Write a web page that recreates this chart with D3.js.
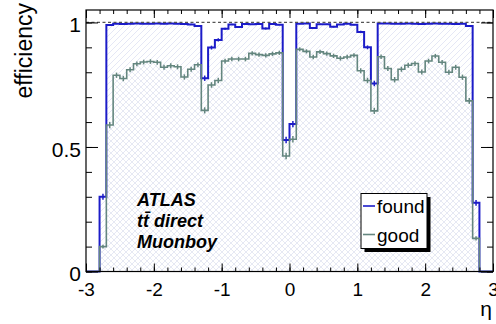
<!DOCTYPE html>
<html>
<head>
<meta charset="utf-8">
<script src="https://cdn.jsdelivr.net/npm/d3@7"></script>
<style>
  html, body { margin: 0; padding: 0; background: #fff; }
  svg { display: block; font-family: "Liberation Sans", Arial, Helvetica, sans-serif; }
</style>
</head>
<body>
<svg id="chart" width="496" height="324"></svg>
<script>
// Binning in pseudorapidity
const etaMin = -3;
const etaMax = 3;
const nBins = 60;

// Reconstruction efficiency per eta bin (empty bins outside |eta| < 2.8)
const found = [
  0, 0, 0.300, 0.990, 0.995, 0.994, 0.995, 0.996, 0.995, 0.995,
  0.996, 0.995, 0.996, 0.995, 0.994, 0.992, 0.986, 0.776, 0.899, 0.930,
  0.975, 0.992, 0.982, 0.994, 0.993, 0.994, 0.976, 0.994, 0.991, 0.528,
  0.592, 0.995, 0.996, 0.978, 0.993, 0.993, 0.983, 0.992, 0.995, 0.991,
  0.962, 0.900, 0.755, 0.996, 0.996, 0.995, 0.995, 0.996, 0.995, 0.994,
  0.995, 0.996, 0.995, 0.995, 0.994, 0.995, 0.986, 0.276, 0, 0
];
const good = [
  0, 0, 0.100, 0.588, 0.788, 0.775, 0.810, 0.834, 0.841, 0.843,
  0.840, 0.820, 0.826, 0.822, 0.781, 0.812, 0.830, 0.647, 0.749, 0.767,
  0.845, 0.853, 0.853, 0.853, 0.876, 0.871, 0.868, 0.874, 0.878, 0.464,
  0.531, 0.892, 0.884, 0.861, 0.882, 0.875, 0.866, 0.856, 0.861, 0.868,
  0.806, 0.767, 0.645, 0.862, 0.815, 0.770, 0.812, 0.828, 0.835, 0.801,
  0.845, 0.865, 0.840, 0.800, 0.820, 0.780, 0.685, 0.133, 0, 0
];
// Muon tracks per bin, used for the binomial error bars
const tracksPerBin = 1500;

const xTicks = [-3, -2, -1, 0, 1, 2, 3];
const yTicks = [0, 0.5, 1];
const legendLabels = ["found", "good"];
const infoLines = ["ATLAS", "tt\u0304 direct", "Muonboy"];

const colFound = "#1c1cc8";
const colGood = "#64867f";

const svg = d3.select("#chart");
const frame = { left: 86, right: 493, top: 10, bottom: 271.5 };

const x = d3.scaleLinear().domain([etaMin, etaMax]).range([frame.left, frame.right]);
const y = d3.scaleLinear().domain([0, 1.05]).range([frame.bottom, frame.top]);

const binW = (etaMax - etaMin) / nBins;
const bins = d3.range(nBins).map(i => ({ lo: etaMin + i * binW, hi: etaMin + (i + 1) * binW }));

// Hatch patterns for the filled histograms
const defs = svg.append("defs");
function hatch(id, color, forward) {
  const p = defs.append("pattern")
    .attr("id", id).attr("patternUnits", "userSpaceOnUse")
    .attr("width", 6).attr("height", 6);
  p.append("path")
    .attr("d", forward ? "M-1,7 L7,-1 M-1,1 L1,-1 M5,7 L7,5" : "M-1,-1 L7,7 M-1,5 L1,7 M5,-1 L7,1")
    .attr("stroke", color).attr("stroke-width", 0.6).attr("fill", "none");
}
hatch("hFound", "#d3d6ef", true);
hatch("hGood", "#d6dbe8", false);

// Step outline of a histogram
function stepPoints(vals) {
  const pts = [[x(etaMin), y(0)]];
  bins.forEach((b, i) => {
    pts.push([x(b.lo), y(vals[i])]);
    pts.push([x(b.hi), y(vals[i])]);
  });
  pts.push([x(etaMax), y(0)]);
  return pts;
}
const line = d3.line();

function drawFill(vals, pat) {
  svg.append("path")
    .attr("d", line(stepPoints(vals)) + "Z")
    .attr("fill", `url(#${pat})`).attr("stroke", "none");
}
function drawHist(vals, color, width) {
  svg.append("path")
    .attr("d", line(stepPoints(vals)))
    .attr("fill", "none").attr("stroke", color).attr("stroke-width", width)
    .attr("stroke-linejoin", "miter");
  const pts = bins.map((b, i) => ({ c: (b.lo + b.hi) / 2, v: vals[i] })).filter(d => d.v > 0);
  svg.append("g").selectAll("line").data(pts).join("line")
    .attr("x1", d => x(d.c)).attr("x2", d => x(d.c))
    .attr("y1", d => y(d.v - Math.sqrt(d.v * (1 - d.v) / tracksPerBin)))
    .attr("y2", d => y(d.v + Math.sqrt(d.v * (1 - d.v) / tracksPerBin)))
    .attr("stroke", color).attr("stroke-width", 1.5);
}

drawFill(found, "hFound");
drawFill(good, "hGood");
drawHist(found, colFound, 2);
drawHist(good, colGood, 1.6);

// Reference line at full efficiency
svg.append("line")
  .attr("x1", frame.left).attr("x2", frame.right)
  .attr("y1", y(1)).attr("y2", y(1))
  .attr("stroke", "#555").attr("stroke-width", 1.2).attr("stroke-dasharray", "3,2.5");

// Axes: ticks drawn inside the frame on all four sides
const xMinor = d3.range(etaMin, etaMax + 0.001, 0.2);
const yMinor = d3.range(0, 1.051, 0.1);

function styleAxis(g) { g.select(".domain").remove(); g.selectAll("line").attr("stroke", "#000").attr("stroke-width", 1); }

svg.append("g").attr("transform", `translate(0,${frame.bottom})`)
  .call(d3.axisBottom(x).tickValues(xMinor).tickSize(-4).tickFormat("")).call(styleAxis);
svg.append("g").attr("transform", `translate(0,${frame.bottom})`)
  .call(d3.axisBottom(x).tickValues(xTicks).tickSize(-8).tickPadding(11)
    .tickFormat(d => (d < 0 ? "-" + Math.abs(d) : String(d))))
  .call(styleAxis)
  .call(g => g.selectAll("text").attr("font-size", 19).attr("fill", "#000")
    .attr("font-family", "'Liberation Sans', Arial, Helvetica, sans-serif"));
svg.append("g").attr("transform", `translate(0,${frame.top})`)
  .call(d3.axisTop(x).tickValues(xMinor).tickSize(-4).tickFormat("")).call(styleAxis);
svg.append("g").attr("transform", `translate(0,${frame.top})`)
  .call(d3.axisTop(x).tickValues(xTicks).tickSize(-8).tickFormat("")).call(styleAxis);

svg.append("g").attr("transform", `translate(${frame.left},0)`)
  .call(d3.axisLeft(y).tickValues(yMinor).tickSize(-6).tickFormat("")).call(styleAxis);
svg.append("g").attr("transform", `translate(${frame.left},0)`)
  .call(d3.axisLeft(y).tickValues(yTicks).tickSize(-12).tickPadding(5).tickFormat(d3.format("~g")))
  .call(styleAxis)
  .call(g => g.selectAll("text").attr("font-size", 21).attr("dy", "0.45em").attr("fill", "#000")
    .attr("font-family", "'Liberation Sans', Arial, Helvetica, sans-serif"));
svg.append("g").attr("transform", `translate(${frame.right},0)`)
  .call(d3.axisRight(y).tickValues(yMinor).tickSize(-6).tickFormat("")).call(styleAxis);
svg.append("g").attr("transform", `translate(${frame.right},0)`)
  .call(d3.axisRight(y).tickValues(yTicks).tickSize(-12).tickFormat("")).call(styleAxis);

// Frame
svg.append("rect")
  .attr("x", frame.left).attr("y", frame.top)
  .attr("width", frame.right - frame.left).attr("height", frame.bottom - frame.top)
  .attr("fill", "none").attr("stroke", "#000").attr("stroke-width", 1.2);

// Axis titles
svg.append("text")
  .attr("transform", `translate(32,3) rotate(-90)`)
  .attr("text-anchor", "end").attr("font-size", 23).text("efficiency");
svg.append("text")
  .attr("x", 492).attr("y", 316).attr("text-anchor", "end")
  .attr("font-size", 21).text("\u03b7");

// Sample description
svg.append("g").selectAll("text").data(infoLines).join("text")
  .attr("x", 137).attr("y", (d, i) => 206 + i * 21)
  .attr("font-size", 18).attr("font-weight", "bold").attr("font-style", "italic")
  .text(d => d);

// Legend with drop shadow
const lg = { x0: 361, y0: 193.5, x1: 427, y1: 248.5 };
svg.append("rect").attr("x", lg.x0 + 3.5).attr("y", lg.y0 + 3.5)
  .attr("width", lg.x1 - lg.x0).attr("height", lg.y1 - lg.y0).attr("fill", "#000");
svg.append("rect").attr("x", lg.x0).attr("y", lg.y0)
  .attr("width", lg.x1 - lg.x0).attr("height", lg.y1 - lg.y0)
  .attr("fill", "#fff").attr("stroke", "#000").attr("stroke-width", 1);
const legendColors = [colFound, colGood];
legendLabels.forEach((lab, i) => {
  const cy = 206 + i * 28.5;
  svg.append("line").attr("x1", 363).attr("x2", 375).attr("y1", cy).attr("y2", cy)
    .attr("stroke", legendColors[i]).attr("stroke-width", 1.6);
  svg.append("text").attr("x", 377).attr("y", cy + 7).attr("font-size", 19).text(lab);
});
</script>
</body>
</html>
